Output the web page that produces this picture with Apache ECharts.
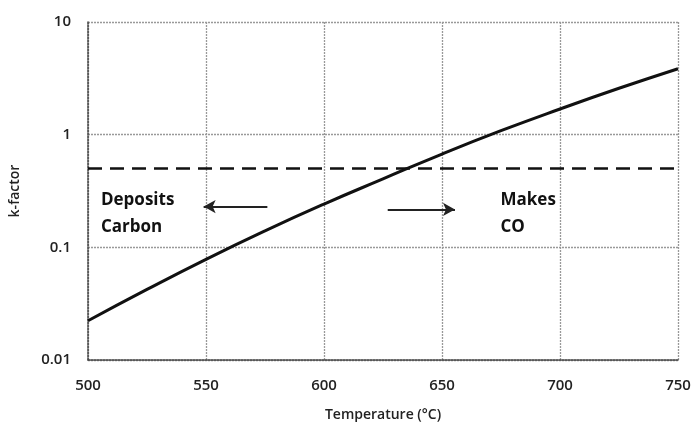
<!DOCTYPE html>
<html>
<head>
<meta charset="utf-8">
<script src="https://cdn.jsdelivr.net/npm/echarts@6/dist/echarts.min.js"></script>
<style>html,body{margin:0;padding:0;background:#fff}#c{width:694px;height:427px}</style>
</head>
<body>
<div id="c"></div>
<script>
var temperatures = [500, 525, 550, 575, 600, 625, 650, 675, 700, 725, 750];
var kFactor = [0.0223, 0.0423, 0.0783, 0.140, 0.242, 0.405, 0.673, 1.084, 1.69, 2.58, 3.85];
var thresholdTemps = [500, 750];
var thresholdValue = 0.5;
var xTicks = [500, 550, 600, 650, 700, 750];
var yTicks = [0.01, 0.1, 1, 10];
var leftArrow = [[576, 0.23], [549, 0.23]];
var rightArrow = [[627, 0.217], [655.5, 0.217]];
var leftText = {x: 505.5, y: 0.345, text: 'Deposits\nCarbon'};
var rightText = {x: 674.8, y: 0.345, text: 'Makes\nCO'};

var font = '"Open Sans", "DejaVu Sans", sans-serif';
var chart = echarts.init(document.getElementById('c'), null, {renderer: 'canvas'});
var curve = temperatures.map(function (t, i) { return [t, kFactor[i]]; });
var thresh = thresholdTemps.map(function (t) { return [t, thresholdValue]; });

chart.setOption({
  animation: false,
  grid: {left: 88, right: 16, top: 22, bottom: 66},
  xAxis: {
    type: 'value', min: xTicks[0], max: xTicks[xTicks.length - 1], interval: 50,
    name: 'Temperature (°C)', nameLocation: 'middle', nameGap: 48,
    nameTextStyle: {fontFamily: font, fontSize: 14, color: '#222', fontWeight: 600},
    axisLine: {lineStyle: {color: '#444', type: [2, 1], width: 1.5}},
    axisTick: {show: false},
    axisLabel: {margin: 18, fontFamily: font, fontSize: 15, color: '#222', fontWeight: 600},
    splitLine: {show: true, lineStyle: {color: '#999', type: [2, 1], width: 1.3}}
  },
  yAxis: {
    type: 'log', logBase: 10, min: yTicks[0], max: yTicks[yTicks.length - 1],
    name: 'k-factor', nameLocation: 'middle', nameGap: 66, nameRotate: 90,
    nameTextStyle: {fontFamily: font, fontSize: 14, color: '#222', fontWeight: 600},
    axisLine: {show: true, lineStyle: {color: '#444', type: [2, 1], width: 1.5}},
    axisTick: {show: false},
    axisLabel: {margin: 17, fontFamily: font, fontSize: 15, color: '#222', fontWeight: 600,
      formatter: function (v) { return String(+v.toPrecision(2)); }},
    splitLine: {show: true, lineStyle: {color: '#999', type: [2, 1], width: 1.3}}
  },
  series: [
    {
      type: 'line', data: curve, smooth: 0.5, symbol: 'none',
      lineStyle: {color: '#111', width: 3}, z: 5
    },
    {
      type: 'line', data: thresh, symbol: 'none',
      lineStyle: {color: '#111', width: 2.5, type: [14, 8]}, z: 4,
      markLine: {
        silent: true, symbol: ['none', 'arrow'], symbolSize: [10, 12],
        lineStyle: {color: '#222', width: 2, type: 'solid'}, label: {show: false},
        data: [
          [{coord: leftArrow[0]}, {coord: leftArrow[1]}],
          [{coord: rightArrow[0]}, {coord: rightArrow[1]}]
        ]
      },
      markPoint: {
        silent: true, symbol: 'circle', symbolSize: 0,
        label: {show: true, position: 'inside', align: 'left', verticalAlign: 'top',
          fontFamily: font, fontSize: 17, fontWeight: 'bold', color: '#111', lineHeight: 27},
        data: [
          {coord: [leftText.x, leftText.y], value: leftText.text, label: {formatter: leftText.text}},
          {coord: [rightText.x, rightText.y], value: rightText.text, label: {formatter: rightText.text}}
        ]
      }
    }
  ]
});
</script>
</body>
</html>
